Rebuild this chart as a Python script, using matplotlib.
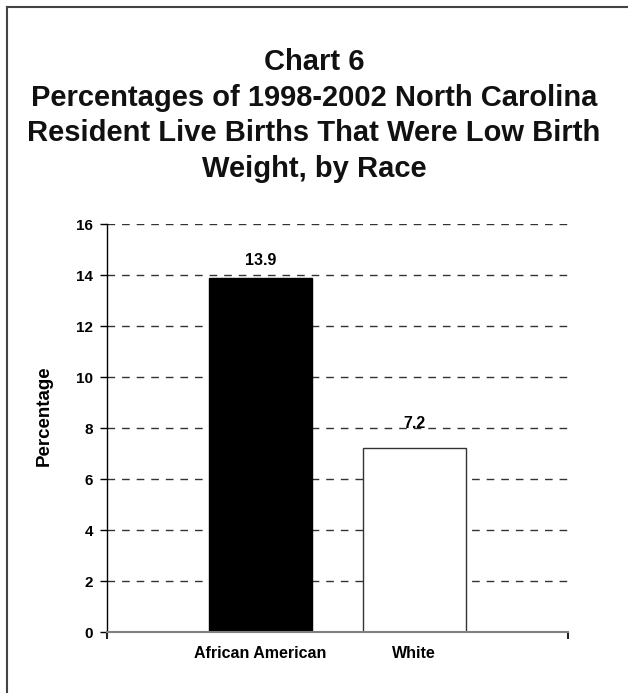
import matplotlib
matplotlib.use("Agg")
import matplotlib.pyplot as plt
from matplotlib.lines import Line2D

plt.rcParams['font.family'] = ['Liberation Sans', 'DejaVu Sans']
plt.rcParams['font.weight'] = 'bold'

# Low birth weight percentages by race, NC residents 1998-2002
races = ["African American", "White"]
pct_low_weight = [13.9, 7.2]
bar_colors = ["#000000", "#ffffff"]
edge_colors = ["#000000", "#333333"]
label_offsets = [12, 18]   # points above the bar top
y_ticks = [0, 2, 4, 6, 8, 10, 12, 14, 16]

fig = plt.figure(figsize=(6.28, 6.93), dpi=100)
ax = fig.add_axes([0.1704, 0.0880, 0.7341, 0.5887])

# outer frame: only top and left edges show
fig.add_artist(Line2D([7 / 628, 1], [1 - 7 / 693] * 2, transform=fig.transFigure,
                      color="#444444", lw=1.5))
fig.add_artist(Line2D([7 / 628] * 2, [0, 1 - 7 / 693], transform=fig.transFigure,
                      color="#444444", lw=1.5))

fig.text(0.5, 1 - 48 / 693, "Chart 6\nPercentages of 1998-2002 North Carolina\n"
         "Resident Live Births That Were Low Birth\nWeight, by Race",
         ha="center", va="top", fontsize=21, fontweight="bold",
         linespacing=1.35, color="#111111")

xs = [1, 2]
ax.bar(xs, pct_low_weight, width=0.67, color=bar_colors,
       edgecolor=edge_colors, linewidth=1, zorder=3)

for x, v, off in zip(xs, pct_low_weight, label_offsets):
    ax.annotate(f"{v:.1f}", (x, v), xytext=(0, off), textcoords="offset points",
                ha="center", va="center", fontsize=11.5, fontweight="bold", zorder=4)

ax.set_xlim(0, 3)
ax.set_ylim(0, 16)
ax.set_yticks(y_ticks)
ax.set_yticklabels([str(t) for t in y_ticks], fontsize=11, fontweight="bold")
ax.set_xticks(xs)
ax.set_xticklabels(races, fontsize=11.5, fontweight="bold")
ax.set_xticks([0, 3], minor=True)
ax.tick_params(axis="x", which="major", length=0, pad=10)
ax.tick_params(axis="x", which="minor", length=5, width=1.5, color="#222222")
ax.tick_params(axis="y", length=5, width=1, pad=5, direction="out")

ax.yaxis.grid(True, linestyle=(0, (5.5, 5)), color="#333333", linewidth=1)
ax.set_axisbelow(True)

for side in ["top", "right"]:
    ax.spines[side].set_visible(False)
ax.spines["left"].set_color("#000000")
ax.spines["left"].set_linewidth(1)
ax.spines["bottom"].set_color("#808080")
ax.spines["bottom"].set_linewidth(1.5)
ax.spines["bottom"].set_zorder(5)

ax.set_ylabel("Percentage", fontsize=13.5, fontweight="bold")
ax.yaxis.set_label_coords(-0.117, 0.53)

fig.savefig("out.png", dpi=100)
